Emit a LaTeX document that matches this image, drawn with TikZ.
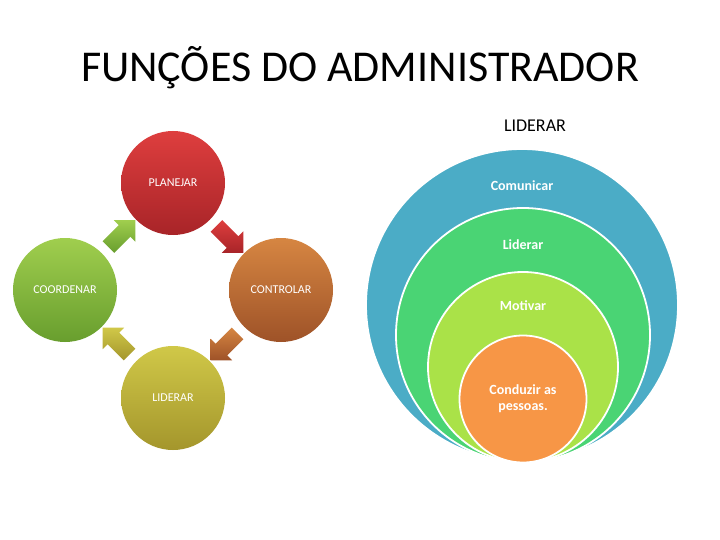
\documentclass[tikz,border=0pt]{standalone}
\usepackage{fontspec}
\setmainfont{Carlito}
\usetikzlibrary{shapes.arrows,positioning,calc}
\definecolor{redtop}{RGB}{222,62,62}
\definecolor{redbot}{RGB}{168,36,40}
\definecolor{orgtop}{RGB}{214,134,66}
\definecolor{orgbot}{RGB}{158,82,40}
\definecolor{grntop}{RGB}{160,206,78}
\definecolor{grnbot}{RGB}{104,158,46}
\definecolor{olvtop}{RGB}{208,200,72}
\definecolor{olvbot}{RGB}{164,150,44}
\definecolor{ringblue}{RGB}{75,172,198}
\definecolor{ringgreen}{RGB}{74,212,116}
\definecolor{ringlime}{RGB}{170,226,72}
\definecolor{ringorange}{RGB}{247,150,70}
\begin{document}
\begin{tikzpicture}[x=1pt, y=-1pt,
    every node/.append style={font=\rmfamily},
    step circle/.style={circle, minimum size=104pt, inner sep=0pt, text=white,
      font=\fontsize{12}{14}\selectfont},
    cycle arrow/.style={single arrow, minimum height=38pt, inner sep=8pt,
      single arrow head extend=7pt, single arrow head indent=0pt},
    ring/.style={circle, inner sep=0pt, draw=white, line width=1.8pt},
    ring text/.style={text=white, font=\fontsize{14}{16}\selectfont\bfseries, align=center}]
  \fill[white] (0,0) rectangle (720,540);
  \useasboundingbox (0,0) rectangle (720,540);
  \node (title) at (360,68) {\fontsize{44}{50}\selectfont FUNÇÕES DO ADMINISTRADOR};
  \node[step circle, top color=redtop, bottom color=redbot] (plan) at (173,183) {PLANEJAR};
  \node[step circle, top color=orgtop, bottom color=orgbot] (ctrl) at (281,290) {CONTROLAR};
  \node[step circle, top color=olvtop, bottom color=olvbot] (lead) at (173,398) {LIDERAR};
  \node[step circle, top color=grntop, bottom color=grnbot] (coord) at (65,290) {COORDENAR};
  \node[cycle arrow, rotate=-45, top color=redtop, bottom color=redbot] (a1) at ($(plan)!0.5!(ctrl)$) {};
  \node[cycle arrow, rotate=-135, top color=orgtop, bottom color=orgbot] (a2) at ($(ctrl)!0.5!(lead)$) {};
  \node[cycle arrow, rotate=135, top color=olvtop, bottom color=olvbot] (a3) at ($(lead)!0.5!(coord)$) {};
  \node[cycle arrow, rotate=45, top color=grntop, bottom color=grnbot] (a4) at ($(coord)!0.5!(plan)$) {};
  \node (leadtitle) at (535,126) {\fontsize{18}{20}\selectfont LIDERAR};
  \node[ring, fill=ringblue, minimum size=312pt] (r1) at (522,305) {};
  \node[ring, fill=ringgreen, minimum size=254pt] (r2) at (523,335) {};
  \node[ring, fill=ringlime, minimum size=190pt] (r3) at (523,367) {};
  \node[ring, fill=ringorange, minimum size=127pt] (r4) at (523,399) {};
  \node[ring text, below=29pt of r1.north] (t1) {Comunicar};
  \node[ring text, below=29pt of r2.north] (t2) {Liderar};
  \node[ring text, below=26pt of r3.north] (t3) {Motivar};
  \node[ring text] (t4) at (r4) {Conduzir as\\pessoas.};
\end{tikzpicture}
\end{document}
